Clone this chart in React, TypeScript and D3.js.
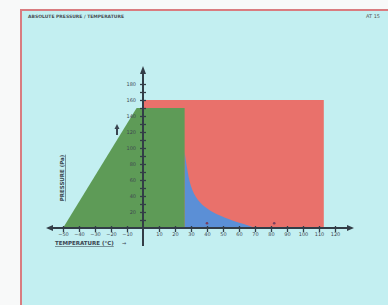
import { useEffect, useRef } from "react"
import * as d3 from "d3"

type Pt = [number, number]

// temperature (°C) / pressure (Pa) outlines
const greenZone: Pt[] = [[-50, 0], [-4, 150], [26, 150], [26, 0]]
const redZone: Pt[] = [[0, 0], [0, 160], [113, 160], [113, 0]]
const blueCurve: Pt[] = [
  [26, 95], [27.5, 75], [29.5, 52], [34, 34], [40, 24], [48, 15], [59, 7], [65, 4], [70, 0],
]
const xTicks = [-50, -40, -30, -20, -10, 10, 20, 30, 40, 50, 60, 70, 80, 90, 100, 110, 120]
const yTicks = [20, 40, 60, 80, 100, 120, 140, 160, 180]
const markers: Pt[] = [[40, 6], [82, 6]]

export default function App() {
  const svgRef = useRef<SVGSVGElement | null>(null)

  useEffect(() => {
    if (!svgRef.current) return
    const width = 388
    const height = 305

    const svg = d3.select(svgRef.current).attr("width", width).attr("height", height)
    svg.selectAll("*").remove()

    const x = d3.scaleLinear().domain([-50, 120]).range([63, 335])
    const y = d3.scaleLinear().domain([0, 180]).range([228, 84])

    // page + frame
    svg.append("rect").attr("width", width).attr("height", height).attr("fill", "#f8f9f9")
    svg.append("rect").attr("x", 21).attr("y", 10).attr("width", 380).attr("height", 310)
      .attr("fill", "#c3eff1").attr("stroke", "#d97c80").attr("stroke-width", 2)

    svg.append("text").attr("x", 28).attr("y", 18).attr("font-size", 4.5).attr("font-weight", "bold")
      .attr("font-family", "DejaVu Sans").attr("fill", "#4a4f55").text("ABSOLUTE PRESSURE / TEMPERATURE")
    svg.append("text").attr("x", 366).attr("y", 18).attr("font-size", 5)
      .attr("font-family", "DejaVu Sans").attr("fill", "#555").text("AT 15")

    const area = d3.line<Pt>().x(d => x(d[0])).y(d => y(d[1]))

    svg.append("path").datum(redZone).attr("d", area(redZone) + "Z").attr("fill", "#e9716b")

    const blue = d3.area<Pt>().x(d => x(d[0])).y0(y(0)).y1(d => y(d[1])).curve(d3.curveBasis)
    svg.append("path").datum(blueCurve).attr("d", blue).attr("fill", "#5b8fd6")

    svg.append("path").datum(greenZone).attr("d", area(greenZone) + "Z").attr("fill", "#5e9b57")

    svg.selectAll("circle.mk").data(markers).join("circle")
      .attr("cx", d => x(d[0])).attr("cy", d => y(d[1])).attr("r", 1.3).attr("fill", "#7a3f5e")

    // x axis
    const axisColor = "#333d47"
    svg.append("line").attr("x1", 52).attr("x2", 348).attr("y1", y(0)).attr("y2", y(0))
      .attr("stroke", axisColor).attr("stroke-width", 1.8)
    svg.append("path").attr("d", `M46,${y(0)} l7,-3 l0,6 Z`).attr("fill", axisColor)
    svg.append("path").attr("d", `M354,${y(0)} l-7,-3 l0,6 Z`).attr("fill", axisColor)

    const gx = svg.append("g").attr("transform", `translate(0,${y(0)})`)
      .call(d3.axisBottom(x).tickValues(xTicks).tickSize(4).tickSizeOuter(0).tickFormat(d3.format("d")))
    gx.select(".domain").remove()
    gx.selectAll("line").attr("stroke", axisColor).attr("y1", -2).attr("stroke-width", 1.3)
    gx.selectAll("text").attr("font-size", 5).attr("fill", "#3e4852").attr("dy", "0.2em")
      .attr("font-family", "DejaVu Sans")

    // y axis
    svg.append("line").attr("x1", x(0)).attr("x2", x(0)).attr("y1", 70).attr("y2", 246)
      .attr("stroke", axisColor).attr("stroke-width", 2)
    svg.append("path").attr("d", `M${x(0)},66 l-3,8 l6,0 Z`).attr("fill", axisColor)

    const gy = svg.append("g").attr("transform", `translate(${x(0)},0)`)
      .call(d3.axisLeft(y).tickValues(d3.range(10, 190, 10)).tickSize(3).tickSizeOuter(0)
        .tickFormat(d => (yTicks.includes(+d) ? String(d) : "")))
    gy.select(".domain").remove()
    gy.selectAll("line").attr("stroke", axisColor).attr("x2", 3).attr("x1", -3).attr("stroke-width", 1.3)
    gy.selectAll("text").attr("font-size", 5).attr("fill", "#3e4852").attr("x", -7)
      .attr("font-family", "DejaVu Sans")

    // axis titles
    svg.append("text").attr("transform", "translate(64,178) rotate(-90)").attr("text-anchor", "middle")
      .attr("font-size", 5.5).attr("font-weight", "bold").attr("font-family", "DejaVu Sans").attr("fill", "#3a4550")
      .attr("text-decoration", "underline").text("PRESSURE (Pa)")
    svg.append("path").attr("d", "M117,124 l-2.5,5 l1.5,0 l0,6 l2,0 l0,-6 l1.5,0 Z").attr("fill", "#3a4550")
    svg.append("text").attr("x", 55).attr("y", 245).attr("font-size", 5.5).attr("font-weight", "bold")
      .attr("font-family", "DejaVu Sans").attr("fill", "#3a4550")
      .attr("text-decoration", "underline").text("TEMPERATURE (°C)")
    svg.append("text").attr("x", 122).attr("y", 245).attr("font-size", 5)
      .attr("font-family", "DejaVu Sans").attr("fill", "#3a4550").text("→")
  }, [])

  return (
    <div style={{ position: "fixed", left: 0, top: 0 }}>
      <svg ref={svgRef} style={{ display: "block" }} />
    </div>
  )
}
